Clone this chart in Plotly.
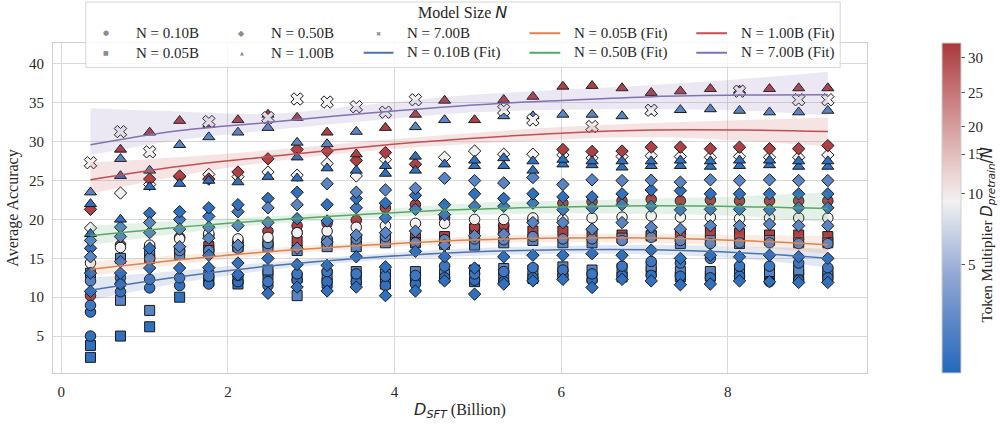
import numpy as np
import plotly.graph_objects as go

# ---------------- data ----------------
X = [0.35, 0.71, 1.06, 1.42, 1.77, 2.12, 2.48, 2.83, 3.19, 3.54, 3.89, 4.25, 4.60,
     4.96, 5.31, 5.66, 6.02, 6.37, 6.73, 7.08, 7.43, 7.79, 8.14, 8.50, 8.85, 9.20]

# token multipliers (colour values)
M_DARK = 1.0
M_DARK2 = 1.5
M_MED = 2.5
M_WHITE = 9.5
M_RED = 31.0

# N = 0.05B (squares)
s_dark2 = [2.26] + [None] * 25
s_dark1 = [3.8, 5.0, 6.2, 10.0, 12.1, 11.7, 12.9, 12.5, 11.8, 12.2, 11.7, 12.4, 12.5,
           12.0, 12.5, 12.4, 12.8, 12.5, 12.6, 13.3, 12.6, 12.7, 13.0, 12.8, 12.9, 12.7]
s_med2 = [None, 9.6, 8.3, None, 12.8, 12.3, 13.5, 10.2, 12.9, 13.3, 13.0, 13.3, 13.0,
          13.5, 13.7, 13.5, 13.9, 13.5, 13.7, 13.96, 13.3, 13.3, 13.5, 13.3, 13.5, 13.3]
s_med1 = [13.1, 15.0, 15.5, 15.5, 16.0, 16.5, 16.5, 16.0, 16.5, 16.5, 17.0, 17.0, 16.8,
          16.7, 17.0, 17.3, 17.0, 17.0, 17.6, 17.9, 16.9, 17.3, 16.9, 17.3, 17.0, 17.0]
s_red = [None, None, 15.0, 16.0, 16.5, 16.5, 17.0, 17.2, 17.0, 17.3, 17.5, 17.6, 17.8,
         18.8, 18.6, 18.5, 18.5, 18.2, 18.0, 17.9, 18.0, 18.4, 18.2, 18.0, 18.0, 17.8]

# N = 0.10B (circles)
c_dark3 = [5.0] + [None] * 25
c_dark2 = [8.1, 10.7, 11.2, 11.5, 11.7, 12.0, 11.5, 12.2, 12.0, 12.0, 11.5, 11.7, 12.5,
           12.2, 12.0, 12.5, 12.8, 12.2, 12.8, 12.8, 12.7, 12.5, 12.7, 12.0, 12.2, 12.5]
c_dark1 = [8.95, 12.5, 12.3, 12.5, 12.7, 12.8, 12.0, 13.0, 13.3, 13.0, 12.7, 12.8, 14.0,
           13.0, 13.3, 13.8, 13.5, 13.0, 14.0, 14.6, 14.4, 15.0, 14.0, 14.0, 14.4, 13.8]
c_med = [12.1, 11.7, 15.0, 16.0, 16.0, 16.3, 16.9, 18.3, 17.5, 17.5, 17.8, 17.0, 17.4,
         17.5, 17.4, 17.8, 17.5, 17.5, 17.3, 17.7, 17.3, 16.9, 17.0, 17.0, 16.9, 16.9]
c_white = [14.4, 16.4, 16.7, 17.5, 18.2, 17.5, 17.7, 18.3, 18.5, 19.0, 19.2, 19.5, 19.5,
           20.0, 20.0, 20.2, 20.0, 20.2, 20.3, 20.45, 20.3, 20.3, 20.1, 20.2, 20.2, 20.2]
c_red = [10.2, 16.7, 16.5, 17.7, 18.0, 17.2, 18.5, 19.2, 19.5, 19.9, 21.5, 21.9, 20.2,
         19.0, 19.3, 19.8, 22.1, 22.3, 22.4, 22.6, 22.4, 22.5, 22.4, 22.4, 22.4, 22.4]

# N = 0.50B (diamonds)
d_dark4 = [10.75, 11.7, 13.75, 13.75, 13.8, 12.9, 10.5, 11.3, 10.8, 11.3, 10.2, 10.8, 12.1,
           10.4, 11.7, 12.1, 12.3, 11.25, 12.3, 12.1, 11.6, 11.7, 12.1, 12.0, 11.9, 11.9]
d_dark3 = [13.1, 13.1, 16.3, None, 15.4, 14.4, 15.0, 14.2, 14.1, 15.2, 13.9, 15.9, 15.2,
           13.75, 15.2, 15.4, 15.4, 15.6, 15.4, 16.06, 15.0, 15.4, 15.2, 15.4, 15.2, 15.0]
d_dark2 = [None, 14.6, None, 20.0, 20.4, 21.0, None, 20.1, 19.8, 21.5, 20.2, 21.3, 20.6,
           21.7, 21.7, 22.1, 21.25, 21.5, 21.9, 21.7, 21.25, 21.3, 21.3, 21.25, 21.5, 21.5]
d_dark1 = [16.3, None, 20.8, 21.0, 21.5, 21.9, 22.7, 23.5, 21.9, 22.7, 22.1, 23.1, 21.9,
           23.3, 22.7, 23.3, 22.9, 22.9, 23.3, 23.8, 23.7, 23.3, 23.3, 23.3, 23.3, 23.3]
d_med2 = [15.2, 17.8, 18.3, 16.5, 17.6, 16.7, 19.6, 16.3, 17.1, 18.0, 18.3, 18.5, 16.7,
          17.9, 18.1, 19.6, 19.6, 18.75, 19.6, 19.0, 18.75, 19.2, 19.2, 19.4, 19.2, 19.2]
d_med1 = [17.3, 19.0, 19.6, 18.75, 19.0, 19.2, 21.5, 21.9, 24.6, 23.5, 23.8, 24.0, 25.3,
          25.0, 24.7, 25.4, 24.5, 25.1, 25.0, 25.05, 24.8, 25.1, 25.0, 25.1, 25.0, 25.0]
d_white = [18.9, 23.4, 24.5, 25.5, 25.8, 25.5, 26.1, 25.7, 27.2, 25.6, 27.7, None, 28.0,
           28.8, 28.4, 28.4, 28.3, 27.9, 28.1, 28.2, 28.1, 28.0, 28.1, 28.0, 28.0, 28.3]
d_red = [21.3, None, 25.2, 25.6, 25.2, 26.1, 27.8, 29.0, 28.8, 27.6, 28.6, 27.1, None,
         None, None, None, 29.0, 28.75, 28.8, 29.3, 29.3, 29.1, 29.3, 29.1, 29.1, 29.5]

# N = 1.00B (triangles)
t_dark2 = [18.15, 20.0, None, None, None, None, None, 25.3, None, None, 25.9, 26.3, None,
           26.9, 26.9, 26.3, 27.1, 27.0, 26.7, 26.9, 26.9, 26.8, 26.9, 27.0, 26.8, 26.8]
t_dark1 = [22.0, 25.6, 24.2, 24.6, 25.0, 24.8, 25.5, 28.0, 26.6, 26.3, 26.9, 28.1, 27.1,
           27.6, 27.9, 27.5, 27.7, 27.5, 27.5, 27.5, 27.6, 27.5, 27.6, 27.6, 27.5, 27.5]
t_med = [23.5, 27.8, 26.3, 29.6, 30.6, 31.2, 31.8, 29.9, 29.7, 31.3, None, 31.9, 32.8,
         None, 33.3, 33.3, 33.5, 33.5, 33.3, 33.9, 34.1, 34.2, 34.0, 33.8, 33.8, 34.0]
t_red = [None, 29.0, 31.2, 32.7, 32.2, 32.8, 33.5, 33.1, 31.2, 28.4, 31.8, 33.5, 35.3,
         32.8, 35.4, 35.8, 37.1, 37.2, 36.9, 36.3, 36.5, 36.8, 36.6, 36.8, 36.9, 36.9]

# N = 7.00B (X)
x_white = [27.3, 31.3, 28.7, None, 32.6, None, 33.1, 35.5, 35.1, 34.5, 33.8, 35.4, None,
           None, 34.1, 32.8, None, 31.95, None, 34.05, None, None, 36.5, None, 35.4, 35.4]

# fits
FIT_X = [0.35, 1.4, 2.5, 3.7, 4.9, 6.0, 7.1, 8.2, 9.2]
fit_005 = [13.6, 14.8, 15.85, 16.7, 17.35, 17.6, 17.6, 17.25, 16.75]
fit_005_lo = [12.7, 14.2, 15.4, 16.3, 16.9, 17.1, 17.0, 16.5, 15.6]
fit_005_hi = [14.6, 15.4, 16.3, 17.1, 17.8, 18.1, 18.2, 18.0, 17.9]
fit_010 = [10.9, 12.6, 14.0, 15.1, 15.8, 16.1, 16.1, 15.7, 15.0]
fit_010_lo = [9.6, 11.8, 13.5, 14.7, 15.3, 15.6, 15.5, 14.9, 13.8]
fit_010_hi = [12.5, 13.4, 14.5, 15.5, 16.3, 16.6, 16.7, 16.5, 16.2]
fit_050 = [17.9, 19.0, 19.9, 20.7, 21.3, 21.6, 21.75, 21.65, 21.4]
fit_050_lo = [16.7, 18.2, 19.4, 20.2, 20.6, 20.8, 20.7, 20.4, 19.6]
fit_050_hi = [19.2, 19.8, 20.4, 21.2, 22.1, 22.4, 22.7, 23.0, 23.5]
fit_100 = [25.1, 26.8, 28.1, 29.4, 30.4, 31.1, 31.5, 31.5, 31.3]
fit_100_lo = [23.3, 25.6, 27.4, 28.8, 29.7, 30.3, 30.6, 30.1, 29.4]
fit_100_hi = [27.3, 28.0, 28.9, 30.1, 31.1, 31.9, 32.4, 32.8, 33.1]
fit_700 = [29.6, 31.4, 32.5, 33.7, 34.7, 35.3, 35.8, 36.0, 36.05]
fit_700_lo = [28.3, 30.2, 31.5, 32.7, 33.75, 34.1, 34.2, 34.0, 33.4]
fit_700_hi = [34.3, 33.9, 33.6, 34.8, 36.0, 36.7, 37.3, 38.1, 39.0]

# colour bar ticks (value and position on the bar)
CB_VALS = [5, 10, 15, 20, 25, 30]
CB_POS = [0.328, 0.544, 0.663, 0.746, 0.849, 0.956]

# legend labels
LEG_TITLE = 'Model Size <span style="font-family:DejaVu Sans"><i>N</i></span>'
LEG_ROW1 = ["N = 0.10B", "N = 0.50B", "N = 7.00B", "N = 0.05B (Fit)", "N = 1.00B (Fit)"]
LEG_ROW2 = ["N = 0.05B", "N = 1.00B", "N = 0.10B (Fit)", "N = 0.50B (Fit)", "N = 7.00B (Fit)"]

# ---------------- styling ----------------
SERIF = "Liberation Serif"
VLAG = [[0.0, "#2369bd"], [0.15, "#5b86c5"], [0.3, "#93a9d4"], [0.45, "#d3dae9"],
        [0.52, "#f3f1f1"], [0.6, "#ecd4d4"], [0.75, "#d59c9d"], [0.9, "#bd6265"],
        [1.0, "#a9373b"]]
C_BLUE, C_ORANGE, C_GREEN, C_RED, C_PURPLE = "#4c72b0", "#dd8452", "#55a868", "#c44e52", "#8172b3"

W, H = 1000, 427
ML, MR, MT, MB = 47, 133, 43, 46
PW, PH = W - ML - MR, H - MT - MB


def px2x(px):
    return (px - ML) / PW


def px2y(py):
    return (H - MB - py) / PH


def cpos(m):
    return float(np.interp(m, [0.5] + CB_VALS + [32], [0.0] + CB_POS + [1.0]))


def rgba(hexc, a):
    h = hexc.lstrip("#")
    return f"rgba({int(h[0:2],16)},{int(h[2:4],16)},{int(h[4:6],16)},{a})"


fig = go.Figure()

# drawing order: mostly-hidden series first
series = [
    (s_red, "square", 10, M_RED), (c_red, "circle", 10.5, M_RED),
    (s_dark2, "square", 10, M_DARK), (s_dark1, "square", 10, M_DARK),
    (s_med2, "square", 10, M_MED), (s_med1, "square", 10, M_MED),
    (c_dark3, "circle", 10.5, M_DARK), (c_dark2, "circle", 10.5, M_DARK),
    (c_dark1, "circle", 10.5, M_DARK2), (c_med, "circle", 10.5, M_MED),
    (c_white, "circle", 10.5, M_WHITE),
    (d_dark4, "diamond", 9.5, M_DARK), (d_dark3, "diamond", 9.5, M_DARK),
    (d_dark2, "diamond", 9.5, M_DARK2), (d_dark1, "diamond", 9.5, M_DARK),
    (d_med2, "diamond", 9.5, M_MED), (d_med1, "diamond", 9.5, M_MED),
    (d_white, "diamond", 9.5, M_WHITE), (d_red, "diamond", 9.5, M_RED),
    (t_dark2, "triangle-up", 10.5, M_DARK), (t_dark1, "triangle-up", 10.5, M_DARK),
    (t_med, "triangle-up", 10.5, M_MED), (t_red, "triangle-up", 10.5, M_RED),
    (x_white, "x", 11, M_WHITE),
]

for vals, sym, size, mult in series:
    fig.add_trace(go.Scatter(
        x=X, y=vals, mode="markers", showlegend=False, hoverinfo="skip",
        marker=dict(symbol=sym, size=size, color=[cpos(mult)] * len(X),
                    coloraxis="coloraxis",
                    line=dict(color="#1a1a1a", width=1)),
    ))

fits = [
    (fit_010, fit_010_lo, fit_010_hi, C_BLUE),
    (fit_005, fit_005_lo, fit_005_hi, C_ORANGE),
    (fit_050, fit_050_lo, fit_050_hi, C_GREEN),
    (fit_100, fit_100_lo, fit_100_hi, C_RED),
    (fit_700, fit_700_lo, fit_700_hi, C_PURPLE),
]

for mid, lo, hi, col in fits:
    fig.add_trace(go.Scatter(x=FIT_X, y=lo, mode="lines", line=dict(width=0, shape="spline"),
                             showlegend=False, hoverinfo="skip"))
    fig.add_trace(go.Scatter(x=FIT_X, y=hi, mode="lines", line=dict(width=0, shape="spline"),
                             fill="tonexty", fillcolor=rgba(col, 0.16),
                             showlegend=False, hoverinfo="skip"))
    fig.add_trace(go.Scatter(x=FIT_X, y=mid, mode="lines",
                             line=dict(color=col, width=1.5, shape="spline"),
                             showlegend=False, hoverinfo="skip"))

# ---------------- hand-drawn legend (box, title, entries) ----------------
shapes = []
annotations = []
shapes.append(dict(type="rect", xref="paper", yref="paper",
                   x0=px2x(80), x1=px2x(840), y0=px2y(1), y1=px2y(68),
                   line=dict(color="#d5d5d5", width=1),
                   fillcolor="rgba(255,255,255,0.82)", layer="above"))
annotations.append(dict(text=LEG_TITLE, x=px2x(460), y=px2y(12), xref="paper", yref="paper",
                        showarrow=False, xanchor="center", yanchor="middle",
                        font=dict(family=SERIF, size=16, color="#262626")))

ROW_Y = [33, 53]
TEXT_X = [129, 265, 402, 570, 738]
GLYPH_X = [100, 237, 375]
LINE_SEG = {(0, 3): (527, 558, C_ORANGE), (0, 4): (695, 726, C_RED),
            (1, 2): (360, 390, C_BLUE), (1, 3): (527, 558, C_GREEN),
            (1, 4): (695, 726, C_PURPLE)}
GLYPHS = {(0, 0): ("●", 7), (0, 1): ("◆", 8), (0, 2): ("✖", 6),
          (1, 0): ("■", 6), (1, 1): ("▲", 5)}

for r, labels in enumerate([LEG_ROW1, LEG_ROW2]):
    for c, lab in enumerate(labels):
        annotations.append(dict(text=lab, x=px2x(TEXT_X[c]), y=px2y(ROW_Y[r]),
                                xref="paper", yref="paper", showarrow=False,
                                xanchor="left", yanchor="middle",
                                font=dict(family=SERIF, size=15, color="#262626")))
        if (r, c) in GLYPHS:
            g, gs = GLYPHS[(r, c)]
            annotations.append(dict(text=g, x=px2x(GLYPH_X[c]), y=px2y(ROW_Y[r]),
                                    xref="paper", yref="paper", showarrow=False,
                                    xanchor="center", yanchor="middle",
                                    font=dict(family="DejaVu Sans", size=gs, color="#8c8c8c")))
        if (r, c) in LINE_SEG:
            a, b, col = LINE_SEG[(r, c)]
            shapes.append(dict(type="line", xref="paper", yref="paper",
                               x0=px2x(a), x1=px2x(b), y0=px2y(ROW_Y[r]), y1=px2y(ROW_Y[r]),
                               line=dict(color=col, width=2), layer="above"))

# colour bar title (rotated)
annotations.append(dict(
    text='Token Multiplier <span style="font-family:DejaVu Sans"><i>D</i><sub><i>pretrain</i></sub>/<i>N</i></span>',
    x=px2x(988), y=px2y(240), xref="paper", yref="paper", showarrow=False,
    textangle=-90, xanchor="center", yanchor="middle", borderpad=0,
    font=dict(family=SERIF, size=15, color="#262626")))

fig.update_layout(
    width=W, height=H,
    margin=dict(l=ML, r=MR, t=MT, b=MB),
    paper_bgcolor="white", plot_bgcolor="white",
    showlegend=False,
    font=dict(family=SERIF, size=15, color="#262626"),
    xaxis=dict(range=[-0.1, 9.67], tickvals=[0, 2, 4, 6, 8], showgrid=True,
               gridcolor="#d9d9d9", gridwidth=1, zeroline=False,
               showline=True, mirror=True, linecolor="#cfcfcf", linewidth=1,
               ticks="outside", ticklen=5, tickcolor="rgba(0,0,0,0)",
               tickfont=dict(size=15),
               title=dict(text='<span style="font-family:DejaVu Sans"><i>D</i><sub><i>SFT</i></sub></span> (Billion)',
                          font=dict(size=16), standoff=4)),
    yaxis=dict(range=[0.25, 42.7], tickvals=[5, 10, 15, 20, 25, 30, 35, 40], showgrid=True,
               gridcolor="#d9d9d9", gridwidth=1, zeroline=False,
               showline=True, mirror=True, linecolor="#cfcfcf", linewidth=1,
               ticks="outside", ticklen=5, tickcolor="rgba(0,0,0,0)",
               tickfont=dict(size=15),
               title=dict(text="Average Accuracy", font=dict(size=16), standoff=6)),
    coloraxis=dict(
        colorscale=VLAG, cmin=0, cmax=1,
        colorbar=dict(
            x=px2x(943), xanchor="left", y=0.5, yanchor="middle",
            len=1.0, lenmode="fraction", thickness=19, thicknessmode="pixels",
            xpad=0, ypad=0, outlinewidth=1, outlinecolor="#d0d0d0",
            tickvals=CB_POS, ticktext=[str(v) for v in CB_VALS],
            ticks="outside", ticklen=4, tickcolor="#555555",
            tickfont=dict(family=SERIF, size=15),
        ),
    ),
    shapes=shapes,
    annotations=annotations,
)

fig.write_html("out.html")
